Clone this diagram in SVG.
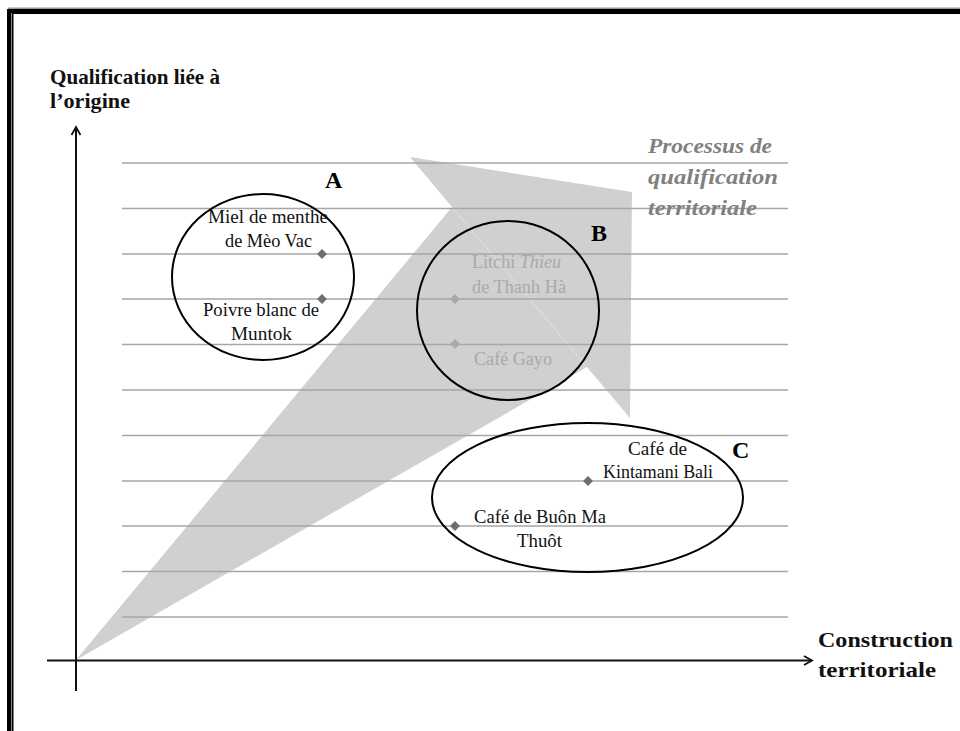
<svg xmlns="http://www.w3.org/2000/svg" width="960" height="731" viewBox="0 0 960 731">
<defs>
<style>
.grid{stroke:#a6a6a6;stroke-width:1.5;fill:none}
.axis{stroke:#111;stroke-width:2;fill:none}
.ring{stroke:#000;stroke-width:2;fill:none}
.lbl{font-family:"Liberation Serif",serif;font-size:19px;fill:#111}
.lblg{font-family:"Liberation Serif",serif;font-size:19px;fill:#a9a9a9}
.big{font-family:"Liberation Serif",serif;font-size:24px;font-weight:bold;fill:#000}
.ax{font-family:"Liberation Serif",serif;font-size:21px;font-weight:bold;fill:#111}
.proc{font-family:"Liberation Serif",serif;font-size:20px;font-weight:bold;font-style:italic;fill:#808080}
.dot{fill:#6e6e6e}
.dotg{fill:#a9a9a9}
</style>
<marker id="arr" markerWidth="12" markerHeight="12" refX="10" refY="6" orient="auto" markerUnits="userSpaceOnUse">
<path d="M2,1.5 L10,6 L2,10.5" fill="none" stroke="#111" stroke-width="1.8"/>
</marker>
</defs>
<rect width="960" height="731" fill="#fff"/>
<g id="frame">
<rect x="8" y="7.5" width="952" height="1.5" fill="#999"/>
<rect x="8" y="9" width="952" height="5" fill="#000"/>
<rect x="7" y="9" width="4" height="722" fill="#000"/>
<rect x="11" y="13" width="1" height="718" fill="#888"/>
<rect x="12" y="13" width="1.5" height="718" fill="#000"/>
</g>
<g id="process-arrow">
<polygon points="76,660 452,207 410,157 632,192 630,418 587,367" fill="#d0d0d0"/>
<line x1="452" y1="207" x2="630" y2="418" stroke="#e4e4e4" stroke-width="0.8"/>
</g>
<g id="grid">
<line class="grid" x1="122" y1="163" x2="788" y2="163"/>
<line class="grid" x1="122" y1="208.5" x2="788" y2="208.5"/>
<line class="grid" x1="122" y1="254" x2="788" y2="254"/>
<line class="grid" x1="122" y1="299" x2="788" y2="299"/>
<line class="grid" x1="122" y1="344.5" x2="788" y2="344.5"/>
<line class="grid" x1="122" y1="390" x2="788" y2="390"/>
<line class="grid" x1="122" y1="435.5" x2="788" y2="435.5"/>
<line class="grid" x1="122" y1="481" x2="788" y2="481"/>
<line class="grid" x1="122" y1="526" x2="788" y2="526"/>
<line class="grid" x1="122" y1="571.5" x2="788" y2="571.5"/>
<line class="grid" x1="122" y1="617" x2="788" y2="617"/>
</g>
<g id="connectors">
<line class="axis" x1="76" y1="691" x2="76" y2="127" marker-end="url(#arr)"/>
<line class="axis" x1="47" y1="660.5" x2="812" y2="660.5" marker-end="url(#arr)"/>
</g>
<g id="axis-y-label">
<text class="ax" x="50" y="84" textLength="170" lengthAdjust="spacingAndGlyphs">Qualification liée à</text>
<text class="ax" x="50" y="108" textLength="80" lengthAdjust="spacingAndGlyphs">l’origine</text>
</g>
<g id="axis-x-label">
<text class="ax" x="818" y="647" textLength="135" lengthAdjust="spacingAndGlyphs">Construction</text>
<text class="ax" x="818" y="677" textLength="118" lengthAdjust="spacingAndGlyphs">territoriale</text>
</g>
<g id="process-label">
<text class="proc" x="648" y="153" textLength="124" lengthAdjust="spacingAndGlyphs">Processus de</text>
<text class="proc" x="648" y="184" textLength="130" lengthAdjust="spacingAndGlyphs">qualification</text>
<text class="proc" x="648" y="215" textLength="109" lengthAdjust="spacingAndGlyphs">territoriale</text>
</g>
<g id="group-A">
<ellipse class="ring" cx="263" cy="277" rx="91" ry="83"/>
<text class="big" x="325" y="188">A</text>
<text class="lbl" x="208" y="223" textLength="120" lengthAdjust="spacingAndGlyphs">Miel de menthe</text>
<text class="lbl" x="225" y="247" textLength="87" lengthAdjust="spacingAndGlyphs">de Mèo Vac</text>
<text class="lbl" x="203" y="316" textLength="116" lengthAdjust="spacingAndGlyphs">Poivre blanc de</text>
<text class="lbl" x="231" y="340" textLength="61" lengthAdjust="spacingAndGlyphs">Muntok</text>
<rect class="dot" x="318.5" y="250.5" width="7" height="7" transform="rotate(45 322 254)"/>
<rect class="dot" x="318.5" y="295.5" width="7" height="7" transform="rotate(45 322 299)"/>
</g>
<g id="group-B">
<ellipse class="ring" cx="508" cy="310.5" rx="91" ry="89.5"/>
<text class="big" x="591" y="241">B</text>
<text class="lblg" x="472" y="268" textLength="89" lengthAdjust="spacingAndGlyphs">Litchi <tspan font-style="italic">Thieu</tspan></text>
<text class="lblg" x="472" y="293" textLength="94" lengthAdjust="spacingAndGlyphs">de Thanh Hà</text>
<text class="lblg" x="474" y="365" textLength="78" lengthAdjust="spacingAndGlyphs">Café Gayo</text>
<rect class="dotg" x="451.5" y="295.5" width="7" height="7" transform="rotate(45 455 299)"/>
<rect class="dotg" x="451.5" y="340.5" width="7" height="7" transform="rotate(45 455 344)"/>
</g>
<g id="group-C">
<ellipse class="ring" cx="587.5" cy="497.5" rx="155.5" ry="74.5"/>
<text class="big" x="732" y="458">C</text>
<text class="lbl" x="628" y="455" textLength="59" lengthAdjust="spacingAndGlyphs">Café de</text>
<text class="lbl" x="603" y="478" textLength="110" lengthAdjust="spacingAndGlyphs">Kintamani Bali</text>
<text class="lbl" x="474" y="523" textLength="132" lengthAdjust="spacingAndGlyphs">Café de Buôn Ma</text>
<text class="lbl" x="517" y="547" textLength="45" lengthAdjust="spacingAndGlyphs">Thuôt</text>
<rect class="dot" x="584.5" y="477.5" width="7" height="7" transform="rotate(45 588 481)"/>
<rect class="dot" x="451.5" y="522.5" width="7" height="7" transform="rotate(45 455 526)"/>
</g>
</svg>
